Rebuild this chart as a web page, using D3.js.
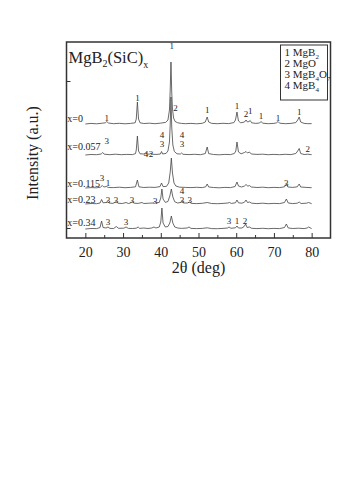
<!DOCTYPE html>
<html>
<head>
<meta charset="utf-8">
<script src="https://cdn.jsdelivr.net/npm/d3@7"></script>
<style>
  body { margin: 0; background: #fff; }
  svg text { font-family: "Liberation Serif", "DejaVu Serif", serif; fill: #222; }
</style>
</head>
<body>
<svg width="350" height="503"></svg>
<script>
// XRD patterns, [2theta, intensity above own baseline]
const s0 = [[20,0],[21.5,0.6],[23,0.2],[24.5,0.8],[25.3,1.2],[25.7,2.5],[26.1,1],[27.5,0.3],[29,0.7],[30.5,0.2],[32,0.6],[33.2,1.2],[33.5,5],[33.8,22],[34.1,5],[34.5,1.2],[35.5,0.5],[37,0.8],[38.5,0.3],[40,0.9],[41.3,1.6],[41.9,4],[42.3,14],[42.5,34],[42.7,62],[42.9,32],[43.1,15],[43.4,6],[43.8,2.5],[44.5,1.2],[45.5,0.6],[46.5,0.3],[48,0.6],[49.5,0.2],[51,0.7],[51.8,2],[52.3,7],[52.7,2],[53.5,0.6],[55,0.3],[56.5,0.7],[58,0.4],[59.4,1.4],[59.8,4],[60.2,12],[60.6,3],[61.2,1.2],[62.2,2],[62.6,4],[63,2],[63.4,2.5],[63.7,3.5],[64.1,1.2],[65.2,0.6],[66.2,1],[66.6,2.5],[67,0.8],[68.5,0.3],[70,0.6],[70.7,1.2],[71.1,2.5],[71.5,0.8],[73,0.3],[74.5,0.6],[75.8,1.4],[76.3,4],[76.7,7],[77.1,2],[78,0.6],[79,0.3],[80,0.4]];
const s1 = [[20,0],[21.5,0.5],[23,0.3],[24.2,1],[24.6,2.5],[25,0.8],[26.5,0.3],[28,0.8],[29.5,0.3],[31,0.6],[32.5,0.4],[33.3,1.4],[33.5,5],[33.8,19],[34.1,4],[34.5,1.2],[35.5,1],[36,2],[36.5,0.8],[37.1,1],[37.4,2],[37.8,0.7],[39,0.6],[39.9,1],[40.2,3.5],[40.5,1],[41.4,1.6],[41.9,4],[42.3,13],[42.5,30],[42.7,58],[42.9,28],[43.2,10],[43.6,3.5],[44.3,1.2],[45.2,1],[45.5,2],[45.9,0.7],[47.5,0.4],[49,0.7],[50.5,0.3],[51.8,1.4],[52.3,8],[52.7,1.4],[54,0.5],[55.5,0.2],[57,0.6],[58.5,0.4],[59.5,1.5],[59.9,4],[60.2,13],[60.6,3],[61.3,1.2],[62.2,2.5],[62.6,3.5],[63,2],[63.5,3],[64,1],[65.5,0.6],[67,0.8],[68.5,0.3],[70,0.6],[71.5,0.3],[73,0.7],[74.5,0.4],[75.8,1.5],[76.3,4],[76.7,6.5],[77.1,1.5],[78,0.5],[79,0.8],[80,0.3]];
const s2 = [[20,0],[21.5,0.4],[23,0.2],[24,0.8],[24.5,2.5],[24.9,1],[25.6,1.5],[26.1,0.5],[27.5,0.4],[29,0.8],[30.5,0.3],[32,0.6],[33.3,1.2],[33.8,8],[34.2,1.2],[35.5,0.5],[37,0.8],[38.5,0.6],[39.8,1.4],[40.2,5],[40.6,1.4],[41.5,1.6],[42.1,5],[42.5,16],[42.8,30],[43.1,15],[43.5,5],[44,2],[45,0.8],[46.5,0.6],[48,0.4],[49.5,0.7],[51,0.4],[51.9,1.2],[52.3,4],[52.7,1],[54,0.5],[55.5,0.2],[57,0.6],[58.5,0.4],[59.7,1.5],[60.2,6],[60.6,2],[61.4,1],[62.2,2],[62.6,3.5],[63.1,1.8],[63.5,2.5],[64,1],[65.5,0.5],[67,0.8],[68.5,0.3],[70,0.6],[71.5,0.4],[72.8,1.2],[73.3,4],[73.7,1],[75,0.6],[76.2,1.2],[76.7,4],[77.1,1],[78.5,0.6],[80,0.3]];
const s3 = [[20,0],[21.5,0.5],[23,0.3],[23.9,1],[24.3,4.5],[24.7,1.2],[25.5,1.5],[25.9,2.5],[26.3,1],[27.3,0.6],[27.8,1.5],[28.2,2.5],[28.6,0.8],[29.8,0.5],[30.8,1.5],[31.4,0.5],[32,1],[32.4,2.5],[32.9,0.8],[34,0.6],[35,1.5],[35.5,0.5],[36.8,0.8],[38,1],[38.4,2.5],[38.8,1],[39.6,1.6],[40,6],[40.3,15],[40.6,5],[41.2,1.6],[41.9,2.5],[42.4,8],[42.8,15],[43.2,7],[43.7,2.2],[44.5,1],[45.2,1.5],[45.6,3],[46,1],[47.1,1],[47.6,2],[48.1,0.6],[49.5,0.4],[51,0.7],[52.3,1.5],[53.5,0.5],[55,0.3],[56.5,0.6],[57.8,1],[58.2,1.5],[58.7,0.6],[59.8,1.2],[60.2,4],[60.6,1.2],[61.5,0.8],[62.2,1.8],[62.6,4],[63,1.5],[63.5,2],[64.1,0.8],[65.5,0.4],[67,0.8],[68.5,0.3],[70,0.6],[71.5,0.4],[72.8,1.5],[73.3,5],[73.8,1],[75,0.4],[76.2,0.8],[76.7,2],[77.2,0.5],[78.6,0.8],[79.2,1.5],[80,0.3]];
const s4 = [[20,0],[21.5,0.5],[23,0.4],[23.9,1.5],[24.3,8],[24.7,1.5],[25.5,1],[26,2],[26.5,0.6],[27.5,0.5],[28.2,2.5],[28.8,0.7],[30.2,0.8],[30.8,2],[31.4,0.6],[32.5,0.5],[33.5,0.8],[34,2],[34.4,0.6],[35.5,1],[36.6,0.5],[37.6,1],[38.2,2],[38.7,1],[39.6,2],[40,7],[40.3,21],[40.6,6],[41.2,2],[41.9,2.5],[42.4,6],[42.8,13],[43.2,6],[43.7,2],[44.5,1],[45.5,0.6],[47,1],[47.5,2],[48,0.6],[49.5,0.4],[51,0.6],[52.3,1.2],[53.5,0.4],[55,0.3],[56.5,0.6],[57.7,1],[58.1,2],[58.6,0.7],[59.8,1.2],[60.2,3],[60.6,1],[61.5,1],[62.1,2.5],[62.5,5],[62.9,1.5],[63.5,2],[64.1,0.7],[65.5,0.4],[67,0.7],[68.5,0.3],[70,0.6],[71.5,0.4],[72.8,1.5],[73.3,5],[73.8,1],[75,0.5],[76.5,0.8],[78,0.4],[78.8,1],[79.2,2],[80,0.4]];

const patterns = [s0, s1, s2, s3, s4];
const sampleNames = ["x=0", "x=0.057", "x=0.115", "x=0.23", "x=0.34"];
const offsets = [114, 83, 50, 34, 9];           // vertical shift of each pattern
const sampleLabelY = [116, 88, 51, 35, 12];

// phase labels over the peaks: [2theta, intensity, text]
const peakLabels = [
    [25.7,117,"1"],[33.8,137,"1"],[42.9,189,"1"],[43.9,127,"2"],[52.3,125,"1"],[60.2,129,"1"],
    [62.6,121,"2"],[63.7,124,"1"],[66.6,119,"1"],[71.1,117,"1"],[76.7,123,"1"],
    [25.7,94,"3"],[36.1,81,"4"],[37.4,81,"2"],[40.3,100,"4"],[40.3,91,"3"],[45.6,100,"4"],[45.6,91,"3"],[79.0,86,"2"],
    [24.4,57,"3"],[26.0,52,"1"],[73.3,52,"3"],
    [26.0,35,"3"],[28.1,35,"3"],[32.4,35,"3"],[38.5,34,"3"],[45.6,44,"4"],[45.6,35,"3"],[47.7,35,"3"],
    [26.0,13,"3"],[30.8,13,"3"],[58.1,14,"3"],[60.2,14,"1"],[62.3,14,"2"]
];

const xTicks = [20, 30, 40, 50, 60, 70, 80];
const xMinor = [25, 35, 45, 55, 65, 75];
const yTicks = [10, 157];

const legendItems = [["1 MgB", "2", ""], ["2 MgO", "", ""], ["3 MgB", "4", "O", "7"], ["4 MgB", "4", ""]];

const margin = { top: 42, left: 66.5 },
    width = 264,
    height = 196;

const svg = d3.select("svg")
    .append("g")
    .attr("transform", "translate(" + margin.left + "," + margin.top + ")");

let x = d3.scaleLinear().domain([15, 85]).range([0, width]);
let y = d3.scaleLinear().domain([0, 196]).range([height, 0]);

// axes, ticks pointing inward
svg.append("g")
    .attr("transform", "translate(0," + height + ")")
    .call(d3.axisBottom(x).tickValues(xTicks).tickSizeInner(-5).tickSizeOuter(0).tickPadding(9))
    .call(g => g.select(".domain").remove())
    .call(g => g.selectAll("text").style("font-size", "14px").style("font-family", "Liberation Serif"));

svg.append("g")
    .attr("transform", "translate(0," + height + ")")
    .call(d3.axisBottom(x).tickValues(xMinor).tickSizeInner(-3).tickSizeOuter(0).tickFormat(""))
    .call(g => g.select(".domain").remove());

svg.append("g")
    .call(d3.axisLeft(y).tickValues(yTicks).tickSizeInner(-4).tickSizeOuter(0).tickFormat(""))
    .call(g => g.select(".domain").remove());

svg.selectAll(".tick line").attr("stroke", "#333");

// the patterns
let line = d3.line()
    .x(d => x(d[0]));

patterns.forEach(function(p, i) {
    svg.append("path")
        .datum(p)
        .attr("fill", "none")
        .attr("stroke", "#444")
        .attr("stroke-width", 0.8)
        .attr("d", line.y(d => y(d[1] + offsets[i])));

    svg.append("text")
        .attr("x", x(15.2))
        .attr("y", y(sampleLabelY[i]))
        .style("font-size", "10px")
        .text(sampleNames[i]);
});

svg.selectAll(".peak-label")
    .data(peakLabels)
    .enter()
    .append("text")
    .attr("class", "peak-label")
    .attr("text-anchor", "middle")
    .attr("x", d => x(d[0]))
    .attr("y", d => y(d[1]))
    .style("font-size", "9px")
    .text(d => d[2]);

// frame
svg.append("rect")
    .attr("width", width)
    .attr("height", height)
    .attr("fill", "none")
    .attr("stroke", "#333")
    .attr("stroke-width", 1.5);

// title
let title = svg.append("text")
    .attr("x", 2)
    .attr("y", 21)
    .style("font-size", "16.5px");
title.append("tspan").text("MgB");
title.append("tspan").attr("dy", 4).style("font-size", "10px").text("2");
title.append("tspan").attr("dy", -4).text("(SiC)");
title.append("tspan").attr("dy", 5).style("font-size", "10px").text("x");

// legend
let legend = svg.append("g")
    .attr("transform", "translate(" + (width - 50) + ",3)");
legend.append("rect")
    .attr("width", 47)
    .attr("height", 55)
    .attr("fill", "#fff")
    .attr("stroke", "#333")
    .attr("stroke-width", 1);

legendItems.forEach(function(it, i) {
    let t = legend.append("text")
        .attr("x", 4)
        .attr("y", 11 + i * 11)
        .style("font-size", "11px");
    t.append("tspan").text(it[0]);
    if (it[1]) t.append("tspan").attr("dy", 3).style("font-size", "7px").text(it[1]);
    if (it[2]) t.append("tspan").attr("dy", -3).text(it[2]);
    if (it[3]) t.append("tspan").attr("dy", 3).style("font-size", "7px").text(it[3]);
});

// axis labels
svg.append("text")
    .attr("text-anchor", "middle")
    .attr("x", width / 2)
    .attr("y", height + 35)
    .style("font-size", "16px")
    .text("2θ (deg)");

svg.append("text")
    .attr("text-anchor", "middle")
    .attr("transform", "rotate(-90)")
    .attr("x", -(153 - margin.top))
    .attr("y", -29)
    .style("font-size", "16px")
    .text("Intensity (a.u.)");
</script>
</body>
</html>
